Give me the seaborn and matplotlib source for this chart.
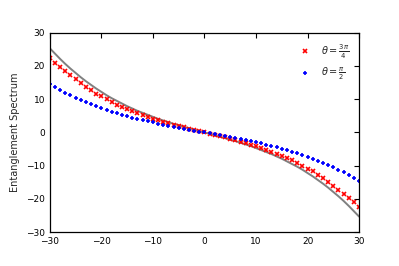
import numpy as np
import pandas as pd
import seaborn as sns
import matplotlib.pyplot as plt

# x positions of the spectrum points
x_vals = list(range(-30, 31))

# theta = 3pi/4 (red crosses)
red_vals = [22.4, 21.0, 19.8, 18.5, 17.3, 16.1, 14.9, 13.8, 12.7, 11.7,
            10.9, 10.0, 9.2, 8.4, 7.7, 7.0, 6.4, 5.8, 5.2, 4.7,
            4.2, 3.7, 3.2, 2.8, 2.3, 1.9, 1.5, 1.1, 0.8, 0.4,
            0.0,
            -0.4, -0.8, -1.1, -1.5, -1.9, -2.3, -2.8, -3.2, -3.7, -4.2,
            -4.7, -5.2, -5.8, -6.4, -7.0, -7.7, -8.4, -9.2, -10.0, -10.9,
            -11.7, -12.7, -13.8, -14.9, -16.1, -17.3, -18.5, -19.8, -21.0, -22.5]

# theta = pi/2 (blue pluses)
blue_vals = [14.6, 13.7, 12.9, 12.0, 11.3, 10.5, 9.8, 9.2, 8.5, 7.9,
             7.4, 6.8, 6.3, 5.8, 5.3, 4.9, 4.5, 4.1, 3.7, 3.3,
             3.0, 2.6, 2.3, 2.0, 1.7, 1.4, 1.1, 0.8, 0.55, 0.27,
             0.0,
             -0.27, -0.55, -0.8, -1.1, -1.4, -1.7, -2.0, -2.3, -2.6, -3.0,
             -3.3, -3.7, -4.1, -4.5, -4.9, -5.3, -5.8, -6.3, -6.8, -7.4,
             -7.9, -8.5, -9.2, -9.8, -10.5, -11.3, -12.0, -12.9, -13.7, -14.6]

# reference curve (gray line)
gray_vals = [25.3, 23.7, 22.1, 20.6, 19.2, 17.9, 16.6, 15.4, 14.3, 13.2,
             12.2, 11.2, 10.3, 9.5, 8.7, 7.9, 7.2, 6.5, 5.9, 5.3,
             4.7, 4.1, 3.6, 3.1, 2.6, 2.2, 1.7, 1.3, 0.85, 0.42,
             0.0,
             -0.42, -0.85, -1.3, -1.7, -2.2, -2.6, -3.1, -3.6, -4.1, -4.7,
             -5.3, -5.9, -6.5, -7.2, -7.9, -8.7, -9.5, -10.3, -11.2, -12.2,
             -13.2, -14.3, -15.4, -16.6, -17.9, -19.2, -20.6, -22.1, -23.7, -25.3]

labels = [r'$\theta=\frac{3\pi}{4}$', r'$\theta=\frac{\pi}{2}$']

sns.set_style("white")
plt.rcParams.update({
    'xtick.direction': 'in', 'ytick.direction': 'in',
    'xtick.top': True, 'ytick.right': True,
    'xtick.major.size': 3.5, 'ytick.major.size': 3.5,
    'axes.edgecolor': 'black',
})
plt.rcParams['font.family'] = ['DejaVu Sans']

df = pd.DataFrame({'x': x_vals, 'red': red_vals, 'blue': blue_vals, 'gray': gray_vals})

fig = plt.figure(figsize=(3.99, 2.66), dpi=100)
ax = fig.add_axes([0.125, 0.127, 0.775, 0.75])

sns.lineplot(data=df, x='x', y='gray', color='gray', lw=1.4, ax=ax, legend=False)
ax.plot(df['x'], df['red'], ls='none', marker='x', ms=2.8, mew=1.2, color='red', label=labels[0])
ax.plot(df['x'], df['blue'], ls='none', marker='+', ms=3.0, mew=1.2, color='blue', label=labels[1])

ax.set_xlim(-30, 30)
ax.set_ylim(-30, 30)
ax.set_xticks([-30, -20, -10, 0, 10, 20, 30])
ax.set_yticks([-30, -20, -10, 0, 10, 20, 30])
ax.tick_params(labelsize=6.5, width=0.8, colors='black')
ax.set_xlabel('')
ax.set_ylabel('Entanglement Spectrum', fontsize=7)
for s in ax.spines.values():
    s.set_linewidth(0.9)

ax.legend(loc='upper right', frameon=False, fontsize=7, numpoints=1,
          handletextpad=0.6, borderaxespad=0.6)

fig.savefig('out.png', dpi=100)
